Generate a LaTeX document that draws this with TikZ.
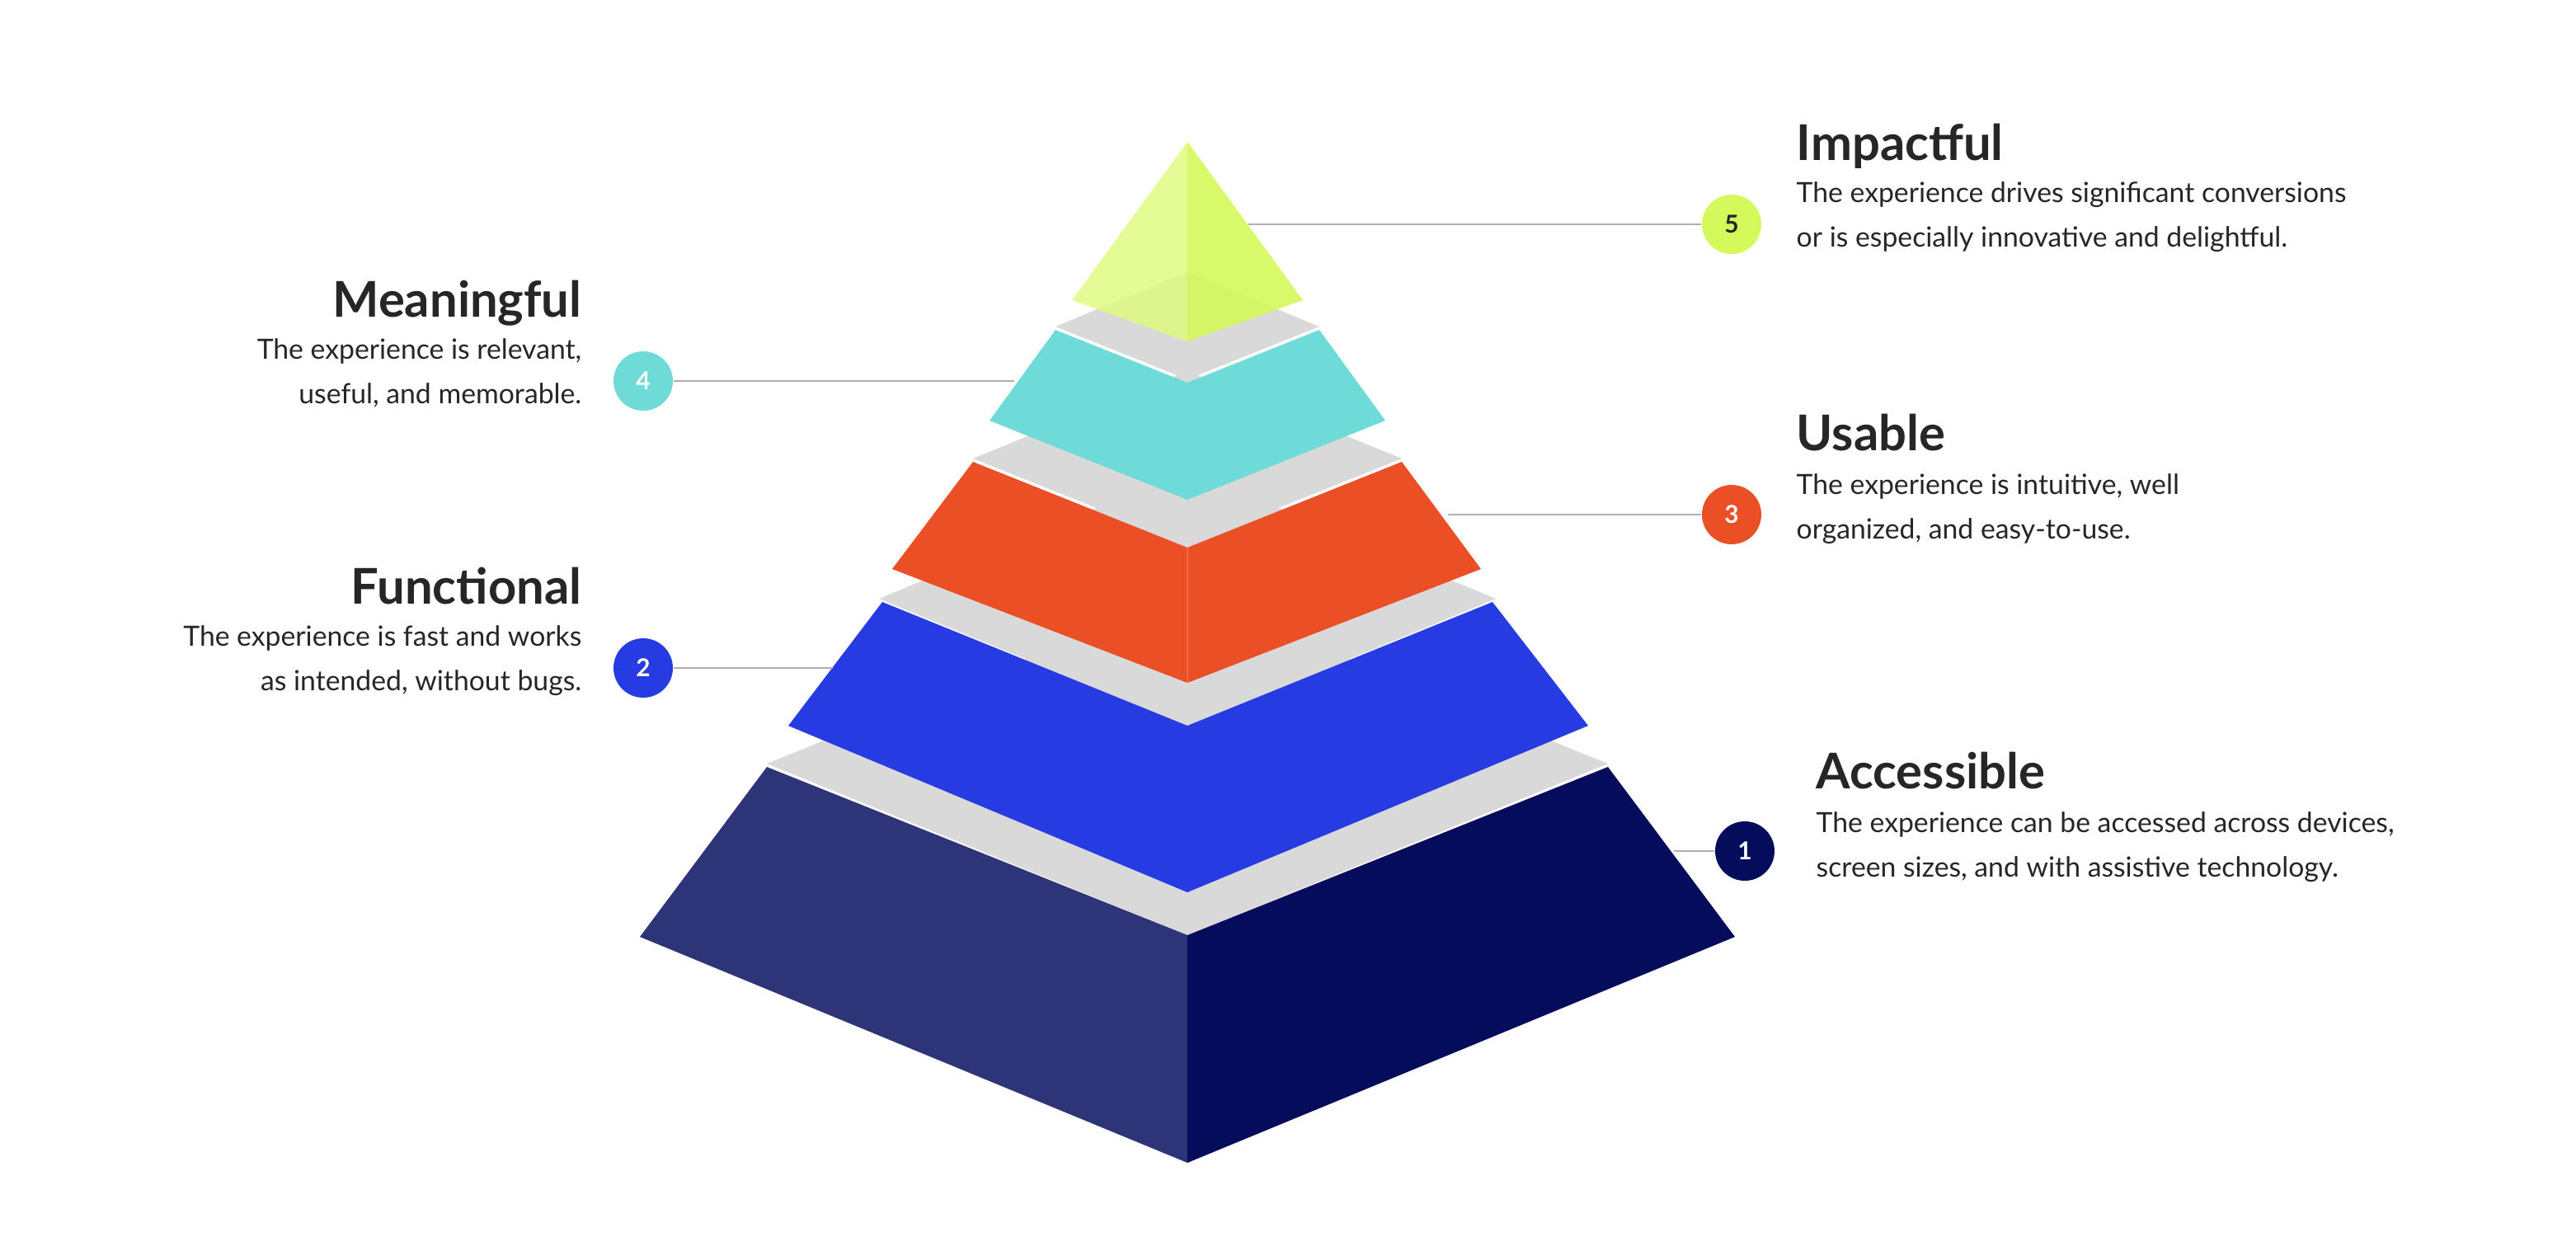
\documentclass[tikz,border=0pt]{standalone}
\usepackage{fontspec}
\setmainfont{Lato}
\usetikzlibrary{positioning}
\definecolor{fontgray}{RGB}{38,38,38}
\definecolor{facegray}{RGB}{217,217,217}
\definecolor{linegray}{RGB}{175,175,175}
\definecolor{navyleft}{RGB}{46,52,120}
\definecolor{navyright}{RGB}{5,12,92}
\definecolor{myblue}{RGB}{39,59,226}
\definecolor{myorange}{RGB}{235,79,38}
\definecolor{myteal}{RGB}{111,219,217}
\definecolor{mylime}{RGB}{212,249,90}
\definecolor{limelight}{RGB}{224,250,130}
\begin{document}
\begin{tikzpicture}[x=0.02cm, y=-0.02cm,
			title/.style={draw=none, inner sep=0pt, font=\fontsize{17}{20}\selectfont\bfseries, text=fontgray},
			body/.style={draw=none, inner sep=0pt, font=\fontsize{9.6}{15.4}\selectfont, text=fontgray},
			num/.style={circle, minimum size=0.72cm, inner sep=0pt, font=\fontsize{8.5}{10}\selectfont\bfseries},
			leader/.style={line width=0.6pt, color=linegray}
			]
			\useasboundingbox (0,0) rectangle (1562,758);
			% bottom layer
			\fill[facegray] (465,463) -- (720,567) -- (975,463) -- (720,360) -- cycle;
			\fill[navyleft] (388,568) -- (465,465) -- (720,567) -- (720,705) -- cycle;
			\fill[navyright] (720,567) -- (975,465) -- (1052,568) -- (720,705) -- cycle;
			% second layer
			\fill[facegray] (533,363) -- (720,440) -- (907,363) -- (720,285) -- cycle;
			\fill[myblue] (478,440) -- (535,365) -- (720,440) -- (905,365) -- (963,440) -- (720,541) -- cycle;
			% third layer
			\fill[facegray] (590,278) -- (720,330) -- (850,278) -- (720,225) -- cycle;
			\fill[myorange] (541,345) -- (590,280) -- (720,332) -- (850,280) -- (898,345) -- (720,414) -- cycle;
			\draw[myorange!85!white, line width=0.4pt] (720,332) -- (720,414);
			% fourth layer
			\fill[facegray] (640,198) -- (720,230) -- (800,198) -- (720,165) -- cycle;
			\fill[myteal] (600,255) -- (640,200) -- (720,232) -- (800,200) -- (840,255) -- (720,303) -- cycle;
			% top
			\fill[limelight, fill opacity=0.85] (650,182) -- (720,86) -- (720,207) -- cycle;
			\fill[mylime, fill opacity=0.9] (720,86) -- (790,182) -- (720,207) -- cycle;

			% numbers
			\node[num, fill=mylime, text=fontgray](n5) at (1050,136) {5};
			\node[num, fill=myteal, text=white](n4) at (390,231) {4};
			\node[num, fill=myorange, text=white](n3) at (1050,312) {3};
			\node[num, fill=myblue, text=white](n2) at (390,405) {2};
			\node[num, fill=navyright, text=white](n1) at (1058,516) {1};
			\coordinate (e5) at (757,136);
			\coordinate (e4) at (615,231);
			\coordinate (e3) at (878,312);
			\coordinate (e2) at (505,405);
			\coordinate (e1) at (1015,516);
			\draw[leader] (e5) -- (n5);
			\draw[leader] (n4) -- (e4);
			\draw[leader] (e3) -- (n3);
			\draw[leader] (n2) -- (e2);
			\draw[leader] (e1) -- (n1);

			% texts
			\node[title, anchor=base west](t5) at (1089,97) {Impactful};
			\node[body, anchor=north west, align=left](b5) at (1089,110) {The experience drives significant conversions\\or is especially innovative and delightful.};
			\node[title, anchor=base east](t4) at (353,192) {Meaningful};
			\node[body, anchor=north east, align=right](b4) at (353,205) {The experience is relevant,\\useful, and memorable.};
			\node[title, anchor=base west](t3) at (1089,273) {Usable};
			\node[body, anchor=north west, align=left](b3) at (1089,287) {The experience is intuitive, well\\organized, and easy-to-use.};
			\node[title, anchor=base east](t2) at (353,366) {Functional};
			\node[body, anchor=north east, align=right](b2) at (353,379) {The experience is fast and works\\as intended, without bugs.};
			\node[title, anchor=base west](t1) at (1101,478) {Accessible};
			\node[body, anchor=north west, align=left](b1) at (1101,492) {The experience can be accessed across devices,\\screen sizes, and with assistive technology.};
			\end{tikzpicture}
\end{document}
